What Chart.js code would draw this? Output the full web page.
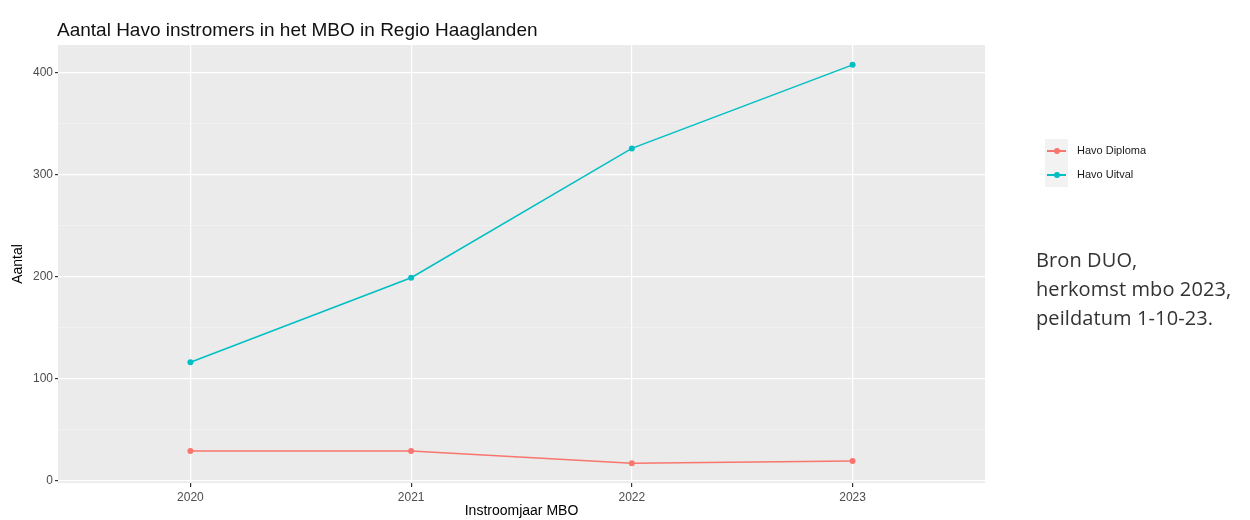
<!DOCTYPE html>
<html>
<head>
<meta charset="utf-8">
<script src="https://cdn.jsdelivr.net/npm/chart.js@4/dist/chart.umd.min.js"></script>
<style>
  body { margin: 0; background: #fff; }
  #wrap { position: relative; width: 1250px; height: 520px; }
  #myChart { position: absolute; left: 0; top: 0; }
  #title { position: absolute; left: 57px; top: 19px; font: 19px "Liberation Sans", Arial, sans-serif; color: #111; }
  #legend { position: absolute; left: 1045px; top: 139px; font: 11px "Liberation Sans", Arial, sans-serif; color: #1a1a1a; }
  .item { position: relative; height: 24px; }
  .key { position: absolute; left: 0; top: 0; width: 23px; height: 24px; background: #f2f2f2; }
  .key .ln { position: absolute; left: 2px; right: 2px; top: 11px; height: 2px; }
  .key .dot { position: absolute; left: 9px; top: 9px; width: 6px; height: 6px; border-radius: 50%; }
  .lbl { position: absolute; left: 32px; top: 5px; white-space: nowrap; }
  #bron { position: absolute; left: 1036px; top: 245px; font: 20px "Open Sans", sans-serif; line-height: 29px; color: #333; letter-spacing: 0.1px; }
</style>
</head>
<body>
<div id="wrap">
  <canvas id="myChart" width="1250" height="520"></canvas>
  <div id="title">Aantal Havo instromers in het MBO in Regio Haaglanden</div>
  <div id="legend"></div>
  <div id="bron">Bron DUO,<br>herkomst mbo 2023,<br>peildatum 1-10-23.</div>
</div>
<script>
const jaren = [2020, 2021, 2022, 2023];
const havoDiploma = [29, 29, 17, 19];
const havoUitval = [116, 199, 326, 408];
const yTicks = [0, 100, 200, 300, 400];
const yMinor = [50, 150, 250, 350];
const seriesNames = ["Havo Diploma", "Havo Uitval"];
const seriesColors = ["#F8766D", "#00BFC4"];

// legend (html)
seriesNames.forEach((name, i) => {
  const item = document.createElement("div");
  item.className = "item";
  item.innerHTML =
    '<div class="key"><div class="ln" style="background:' + seriesColors[i] + '"></div>' +
    '<div class="dot" style="background:' + seriesColors[i] + '"></div></div>' +
    '<div class="lbl">' + name + "</div>";
  document.getElementById("legend").appendChild(item);
});

// grey panel like ggplot
const panelBg = {
  id: "panelBg",
  beforeDraw(chart) {
    const { ctx, chartArea } = chart;
    ctx.save();
    ctx.fillStyle = "#EBEBEB";
    ctx.fillRect(chartArea.left, chartArea.top, chartArea.right - chartArea.left, chartArea.bottom - chartArea.top);
    ctx.restore();
  },
};

const allY = yTicks.concat(yMinor).sort((a, b) => a - b);
const isMinor = (v) => yMinor.includes(v);

const data = {
  datasets: [
    {
      label: seriesNames[0],
      data: jaren.map((j, i) => ({ x: j, y: havoDiploma[i] })),
      borderColor: seriesColors[0],
      backgroundColor: seriesColors[0],
      borderWidth: 1.5,
      pointRadius: 3,
      pointBorderWidth: 0,
    },
    {
      label: seriesNames[1],
      data: jaren.map((j, i) => ({ x: j, y: havoUitval[i] })),
      borderColor: seriesColors[1],
      backgroundColor: seriesColors[1],
      borderWidth: 1.5,
      pointRadius: 3,
      pointBorderWidth: 0,
    },
  ],
};

const config = {
  type: "line",
  data,
  plugins: [panelBg],
  options: {
    responsive: false,
    animation: false,
    layout: { padding: { top: 45, right: 265, left: 0, bottom: 0 } },
    plugins: { legend: { display: false }, title: { display: false }, tooltip: { enabled: false } },
    scales: {
      x: {
        type: "linear",
        min: 2019.4,
        max: 2023.6,
        afterBuildTicks: (scale) => { scale.ticks = jaren.map((v) => ({ value: v })); },
        afterFit: (scale) => { scale.height = 37; },
        ticks: {
          callback: (v) => String(v),
          color: "#4D4D4D",
          font: { family: "Liberation Sans", size: 12 },
          padding: 3,
          maxRotation: 0,
        },
        grid: { color: "#FFFFFF", lineWidth: 1.2, tickLength: 4, tickColor: "#333333" },
        border: { display: false },
        title: {
          display: true,
          text: "Instroomjaar MBO",
          color: "#000",
          font: { family: "Liberation Sans", size: 14 },
          padding: { top: 0, bottom: 0 },
        },
      },
      y: {
        min: -2.5,
        max: 427.5,
        afterBuildTicks: (scale) => { scale.ticks = allY.map((v) => ({ value: v })); },
        afterFit: (scale) => { scale.width = 58; },
        ticks: {
          callback: (v) => (isMinor(v) ? "" : String(v)),
          color: "#4D4D4D",
          font: { family: "Liberation Sans", size: 12 },
          padding: 2,
        },
        grid: {
          color: (c) => (c.tick && isMinor(c.tick.value) ? "#F5F5F5" : "#FFFFFF"),
          lineWidth: (c) => (c.tick && isMinor(c.tick.value) ? 0.6 : 1.2),
          tickLength: 3,
          tickColor: (c) => (c.tick && isMinor(c.tick.value) ? "rgba(0,0,0,0)" : "#333333"),
        },
        border: { display: false },
        title: {
          display: true,
          text: "Aantal",
          color: "#000",
          font: { family: "Liberation Sans", size: 14 },
          padding: { top: 10, bottom: 0 },
        },
      },
    },
  },
};

new Chart(document.getElementById("myChart"), config);
</script>
</body>
</html>
